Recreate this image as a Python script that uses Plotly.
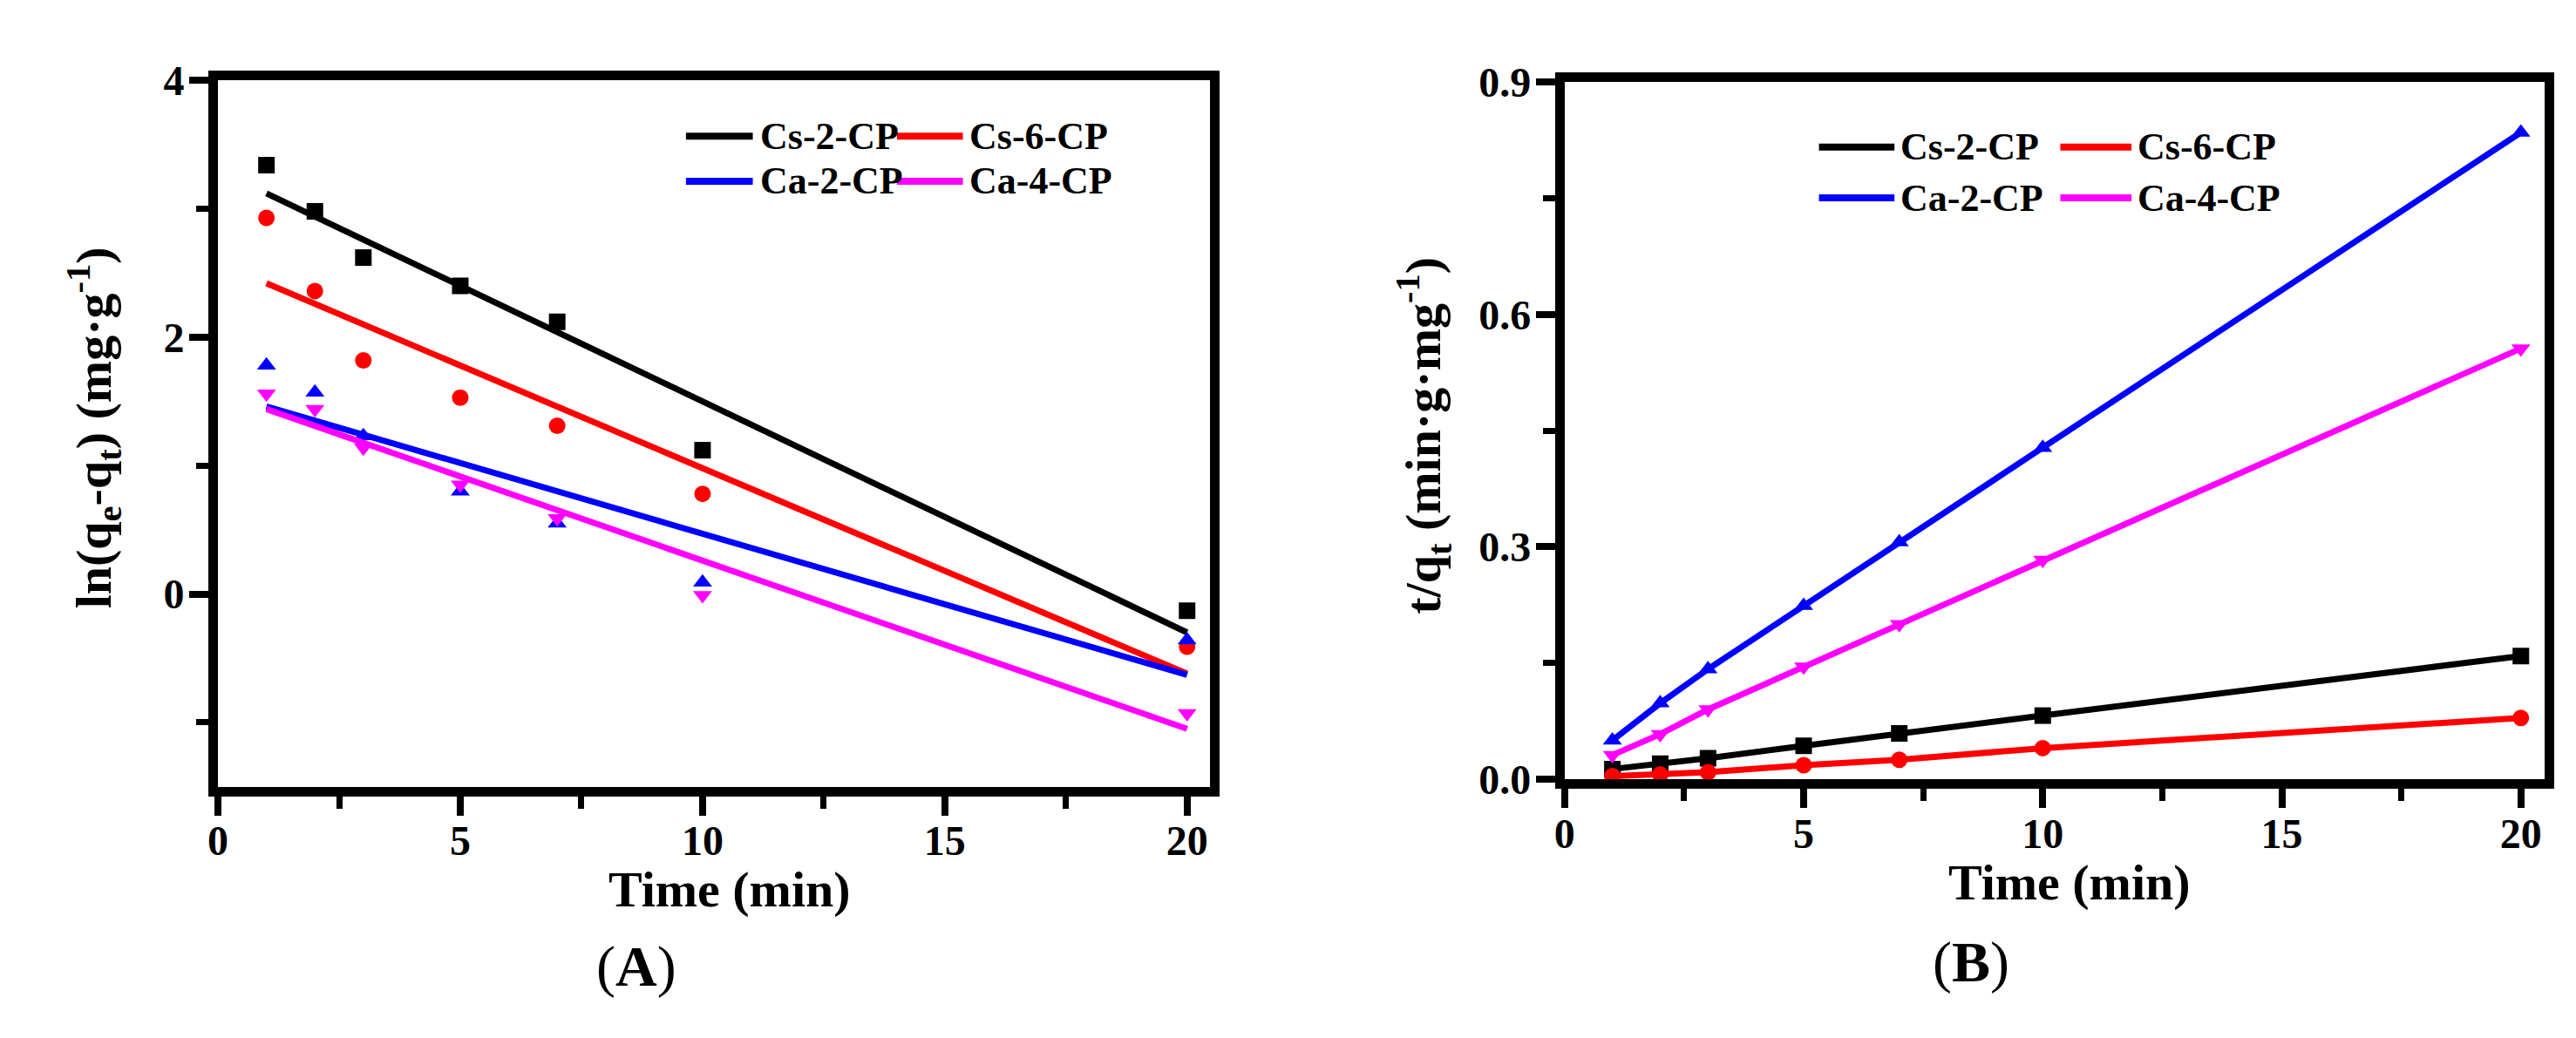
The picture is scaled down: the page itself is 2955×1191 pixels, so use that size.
# %% pseudo-first-order (A) and pseudo-second-order (B) kinetics fits
import plotly.graph_objects as go
from plotly.subplots import make_subplots

W, H = 2955, 1191

names = ["Cs-2-CP", "Cs-6-CP", "Ca-2-CP", "Ca-4-CP"]
colors = ["#000000", "#ff0000", "#0000ff", "#ff00ff"]
symbols = ["square", "circle", "triangle-up", "triangle-down"]

time = [1, 2, 3, 5, 7, 10, 20]

# (A) ln(qe - qt) measured points
cs2_ln = [3.34, 2.98, 2.62, 2.40, 2.12, 1.12, -0.13]
cs6_ln = [2.93, 2.36, 1.82, 1.53, 1.31, 0.78, -0.41]
ca2_ln = [1.78, 1.57, 1.23, 0.80, 0.55, 0.09, -0.36]
ca4_ln = [1.56, 1.44, 1.14, 0.85, 0.59, -0.01, -0.93]

# (A) linear fit, read at both ends
fit_time = [1, 20]
cs2_fit = [3.12, -0.30]
cs6_fit = [2.42, -0.62]
ca2_fit = [1.46, -0.63]
ca4_fit = [1.44, -1.05]

# (B) t/qt
cs2_t = [0.013, 0.020, 0.027, 0.043, 0.059, 0.082, 0.159]
cs6_t = [0.004, 0.006, 0.009, 0.018, 0.025, 0.040, 0.079]
ca2_t = [0.050, 0.098, 0.142, 0.224, 0.306, 0.428, 0.835]
ca4_t = [0.031, 0.058, 0.090, 0.145, 0.200, 0.283, 0.556]

ln_pts = [cs2_ln, cs6_ln, ca2_ln, ca4_ln]
ln_fits = [cs2_fit, cs6_fit, ca2_fit, ca4_fit]
t_pts = [cs2_t, cs6_t, ca2_t, ca4_t]

SERIF = "Liberation Serif"


def px_x(x):
    return x / W


def px_y(y):
    return 1 - y / H


# %%
fig = make_subplots(rows=1, cols=2)

for name, color, sym, pts, fit in zip(names, colors, symbols, ln_pts, ln_fits):
    fig.add_trace(
        go.Scatter(
            x=time, y=pts, mode="markers", name=name, showlegend=False,
            marker=dict(symbol=sym, size=19, color=color),
        ),
        row=1, col=1,
    )
    fig.add_trace(
        go.Scatter(
            x=fit_time, y=fit, mode="lines", name=name, showlegend=False,
            line=dict(color=color, width=7),
        ),
        row=1, col=1,
    )

for name, color, sym, pts in zip(names, colors, symbols, t_pts):
    fig.add_trace(
        go.Scatter(
            x=time, y=pts, mode="lines+markers", name=name, showlegend=False,
            line=dict(color=color, width=7),
            marker=dict(symbol=sym, size=19, color=color),
        ),
        row=1, col=2,
    )

axis_style = dict(
    showline=True, linewidth=11, linecolor="black", mirror=True,
    ticks="outside", ticklen=22, tickwidth=8, tickcolor="black",
    showgrid=False, zeroline=False,
    tickfont=dict(family=SERIF, size=48, color="black", weight="bold"),
)
minor_x = dict(ticks="outside", ticklen=14, tickwidth=7, tickcolor="black", dtick=2.5)

fig.update_xaxes(**axis_style, ticklabelstandoff=-12)
fig.update_yaxes(**axis_style, ticklabelstandoff=-4)

fig.layout.xaxis.update(
    domain=[px_x(231), px_x(1374)], range=[0, 20.48], dtick=5, tick0=0, minor=minor_x
)
fig.layout.yaxis.update(
    domain=[px_y(909), px_y(61)], range=[-1.5, 4], tickvals=[0, 2, 4],
    minor=dict(ticks="outside", ticklen=14, tickwidth=7, tickcolor="black",
               tickvals=[-1, 1, 3]),
)
fig.layout.xaxis2.update(
    domain=[px_x(1782), px_x(2911)], range=[0, 20.5], dtick=5, tick0=0, minor=minor_x
)
fig.layout.yaxis2.update(
    domain=[px_y(900), px_y(63)], range=[0, 0.9], dtick=0.3, tick0=0,
    tickformat=".1f",
    minor=dict(ticks="outside", ticklen=14, tickwidth=7, tickcolor="black", dtick=0.15),
)

# axis titles and panel labels
title_font = dict(family=SERIF, size=58, color="black", weight="bold")
texts = [
    (820, 1032, "Time (min)", 0),
    (2364, 1024, "Time (min)", 0),
    (88, 478, "ln(q<sub>e</sub>-q<sub>t</sub>) (mg·g<sup>-1</sup>)", -90),
    (1620, 487, "t/q<sub>t</sub> (min·g·mg<sup>-1</sup>)", -90),
]
for x, y, text, angle in texts:
    fig.add_annotation(
        x=px_x(x), y=px_y(y), xref="paper", yref="paper", text=text,
        textangle=angle, showarrow=False, font=title_font,
        xanchor="center", yanchor="middle",
    )

for x, y, lab in [(713, 1125, "A"), (2250, 1120, "B")]:
    fig.add_annotation(
        x=px_x(x), y=px_y(y), xref="paper", yref="paper",
        text=f"(<b>{lab}</b>)", showarrow=False,
        font=dict(family=SERIF, size=66, color="black"),
        xanchor="center", yanchor="middle",
    )

# legends: two rows of two entries per panel, long line samples like the original
legend_rows = {
    "A": dict(rows=[128, 182], line_x=[(770, 847), (1013, 1089)], text_x=[853, 1094]),
    "B": dict(rows=[141, 202], line_x=[(2075, 2162), (2353, 2435)], text_x=[2167, 2440]),
}
for panel in legend_rows.values():
    for idx, (name, color) in enumerate(zip(names, colors)):
        row, col = divmod(idx, 2)
        y = panel["rows"][row]
        x0, x1 = panel["line_x"][col]
        fig.add_shape(
            type="line", xref="paper", yref="paper",
            x0=px_x(x0), x1=px_x(x1), y0=px_y(y), y1=px_y(y),
            line=dict(color=color, width=8),
        )
        fig.add_annotation(
            x=px_x(panel["text_x"][col]), y=px_y(y), xref="paper", yref="paper",
            text=name, showarrow=False, xanchor="left", yanchor="middle",
            font=dict(family=SERIF, size=44, color="black", weight="bold"),
        )

fig.update_layout(
    width=W, height=H, margin=dict(t=0, b=0, l=0, r=0),
    paper_bgcolor="white", plot_bgcolor="white", showlegend=False,
)

fig.write_html("out.html")
